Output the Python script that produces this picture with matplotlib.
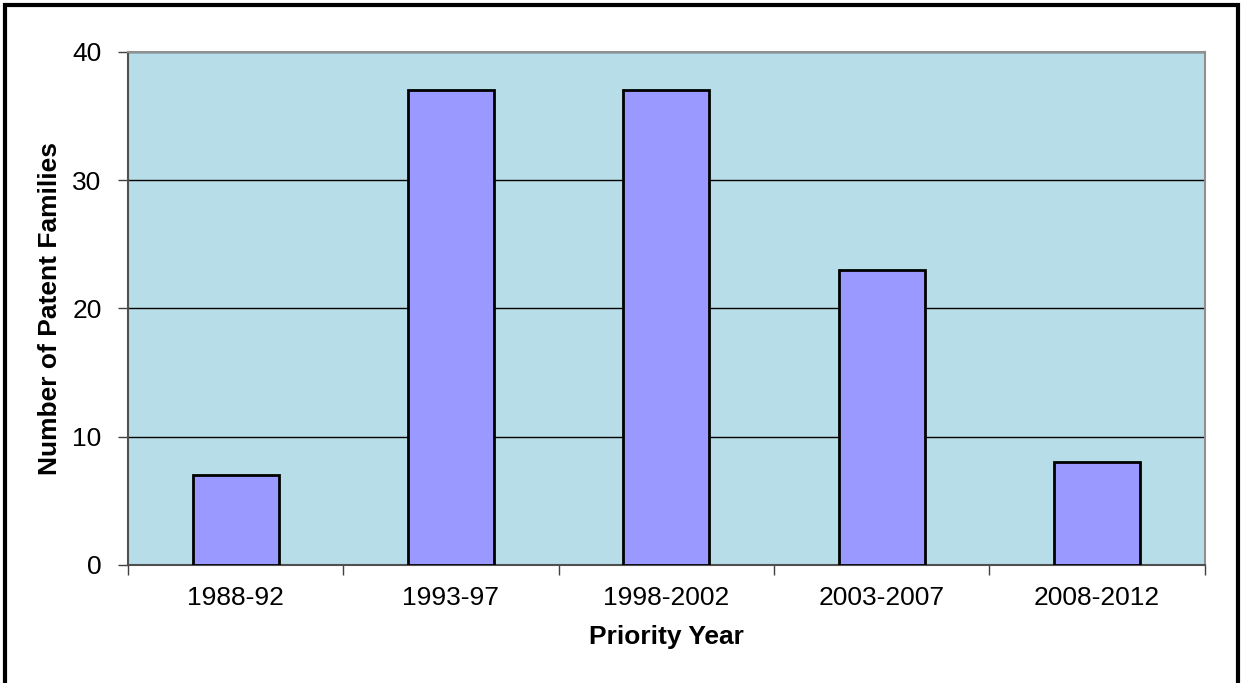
import numpy as np
import matplotlib.pyplot as plt
from matplotlib.patches import Rectangle

plt.rcParams['font.family'] = ['Liberation Sans', 'DejaVu Sans']

periods = ['1988-92', '1993-97', '1998-2002', '2003-2007', '2008-2012']
families = [7, 37, 37, 23, 8]

fig = plt.figure(figsize=(12.42, 6.83), dpi=100)
ax = fig.add_axes([0.103, 0.1728, 0.867, 0.7511])
ax.set_facecolor('#B7DDE8')

x = np.arange(len(periods))
ax.bar(x, families, width=0.4, color='#9999FF', edgecolor='black', linewidth=2, zorder=3)

ax.set_xlim(-0.5, len(periods) - 0.5)
ax.set_ylim(0, 40)
ax.set_yticks(range(0, 41, 10))
ax.yaxis.grid(True, color='black', linewidth=1, zorder=1)
ax.set_axisbelow(True)

# ticks at category boundaries, labels centered
ax.set_xticks(np.arange(-0.5, len(periods)), minor=False)
ax.set_xticklabels([])
ax.set_xticks(x, minor=True)
ax.set_xticklabels(periods, minor=True)
ax.tick_params(axis='x', which='minor', length=0, labelsize=19, pad=15)
ax.tick_params(axis='x', which='major', length=7, color='#404040', width=1)
ax.tick_params(axis='y', length=7, color='#404040', width=1, labelsize=19, pad=12)

for s in ['top', 'right']:
    ax.spines[s].set_color('#909090')
    ax.spines[s].set_linewidth(1.5)
ax.spines['left'].set_color('#505050')
ax.spines['bottom'].set_color('#505050')
ax.spines['left'].set_linewidth(1.5)
ax.spines['bottom'].set_linewidth(1.5)

ax.set_xlabel('Priority Year', fontsize=19, fontweight='bold', labelpad=11)
ax.set_ylabel('Number of Patent Families', fontsize=19, fontweight='bold', labelpad=7)

# outer frame
fig.patches.append(Rectangle((0.004, -0.05), 0.993, 1.043, transform=fig.transFigure,
                             fill=False, edgecolor='black', linewidth=3))

fig.savefig('out.png', dpi=100)
